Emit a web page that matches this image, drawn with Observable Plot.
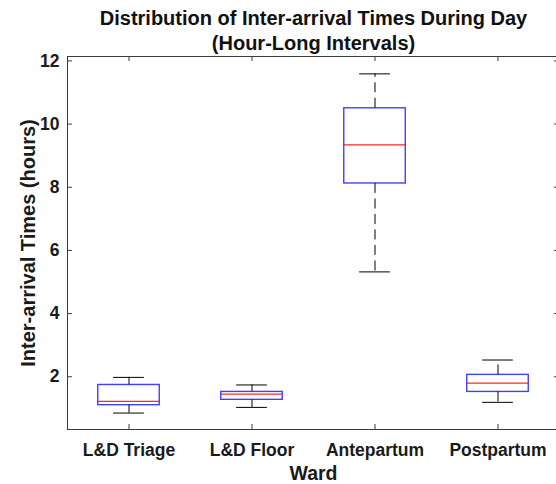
<!DOCTYPE html>
<html>
<head>
<meta charset="utf-8">
<script src="https://cdn.jsdelivr.net/npm/d3@7"></script>
<script src="https://cdn.jsdelivr.net/npm/@observablehq/plot@0.6"></script>
<style>
  html, body { margin: 0; padding: 0; background: #fff; overflow: hidden; }
</style>
</head>
<body>
<div id="chart"></div>
<script>
// Box-plot summary of hourly inter-arrival times (hours) per ward
const wards        = ["L&D Triage", "L&D Floor", "Antepartum", "Postpartum"];
const lowerWhisker = [0.85, 1.03, 5.32, 1.19];
const q1           = [1.10, 1.27, 8.12, 1.52];
const medians      = [1.22, 1.45, 9.34, 1.80];
const q3           = [1.74, 1.52, 10.50, 2.06];
const upperWhisker = [1.98, 1.74, 11.59, 2.53];
const yTicks       = [2, 4, 6, 8, 10, 12];

const titleText = "Distribution of Inter-arrival Times During Day\n(Hour-Long Intervals)";
const xLabel = "Ward";
const yLabel = "Inter-arrival Times (hours)";

const rows = wards.map((ward, i) => ({
  ward, pos: i + 1,
  lo: lowerWhisker[i], q1: q1[i], med: medians[i], q3: q3[i], hi: upperWhisker[i]
}));
const positions = rows.map(d => d.pos);

const xDomain = [0.5, 4.5];
const yDomain = [0.33, 12.14];
const boxHalf = 0.25, capHalf = 0.125;
const tickLenX = 0.04, tickLenY = 0.16;
const axisColor = "#3a3a3a";

const chart = Plot.plot({
  width: 556,
  height: 484,
  marginLeft: 67,
  marginRight: -3,
  marginTop: 56,
  marginBottom: 55,
  style: {
    fontFamily: "'Liberation Sans', Arial, Helvetica, sans-serif",
    fontWeight: "bold",
    color: "#1a1a1a",
    background: "#fff"
  },
  x: { domain: xDomain, axis: null },
  y: { domain: yDomain, axis: null },
  marks: [
    Plot.frame({ stroke: axisColor, strokeWidth: 1 }),
    // inward tick marks on all four sides
    Plot.ruleY(yTicks, { x1: xDomain[0], x2: xDomain[0] + tickLenX, stroke: axisColor }),
    Plot.ruleY(yTicks, { x1: xDomain[1] - tickLenX, x2: xDomain[1], stroke: axisColor }),
    Plot.ruleX(positions, { y1: yDomain[0], y2: yDomain[0] + tickLenY, stroke: axisColor }),
    Plot.ruleX(positions, { y1: yDomain[1], y2: yDomain[1] - tickLenY, stroke: axisColor }),
    // tick labels
    Plot.axisY(yTicks, { anchor: "left", label: null, tickSize: 0, tickPadding: 8, fontSize: 17.5, fontWeight: "bold" }),
    Plot.axisX(positions, {
      anchor: "bottom", label: null, tickSize: 0, tickPadding: 14, fontSize: 17.5, fontWeight: "bold",
      tickFormat: d => wards[d - 1]
    }),
    // whiskers (dashed, drawn outward from the box)
    Plot.ruleX(rows, { x: "pos", y1: "q3", y2: "hi", stroke: "#000", strokeDasharray: "10,5.5" }),
    Plot.ruleX(rows, { x: "pos", y1: "q1", y2: "lo", stroke: "#000", strokeDasharray: "10,5.5" }),
    // whisker caps
    Plot.ruleY(rows, { y: "hi", x1: d => d.pos - capHalf, x2: d => d.pos + capHalf, stroke: "#000" }),
    Plot.ruleY(rows, { y: "lo", x1: d => d.pos - capHalf, x2: d => d.pos + capHalf, stroke: "#000" }),
    // boxes
    Plot.rect(rows, {
      x1: d => d.pos - boxHalf, x2: d => d.pos + boxHalf, y1: "q1", y2: "q3",
      fill: "none", stroke: "#0000ff", strokeWidth: 1.4, strokeOpacity: 0.75
    }),
    // medians
    Plot.ruleY(rows, {
      y: "med", x1: d => d.pos - boxHalf, x2: d => d.pos + boxHalf,
      stroke: "#ff0000", strokeWidth: 1.2, strokeOpacity: 0.85
    }),
    // title and axis labels
    Plot.text([titleText], {
      frameAnchor: "top", dy: -7, lineAnchor: "bottom", lineHeight: 1.25,
      fontSize: 20, fontWeight: "bold", fill: "#111"
    }),
    Plot.text([xLabel], {
      frameAnchor: "bottom", dy: 50, lineAnchor: "bottom",
      fontSize: 19.5, fontWeight: "bold", fill: "#1a1a1a"
    }),
    Plot.text([yLabel], {
      frameAnchor: "left", dx: -33, rotate: -90, textAnchor: "middle", lineAnchor: "bottom",
      fontSize: 20, fontWeight: "bold", fill: "#1a1a1a"
    })
  ]
});

document.getElementById("chart").append(chart);
</script>
</body>
</html>
